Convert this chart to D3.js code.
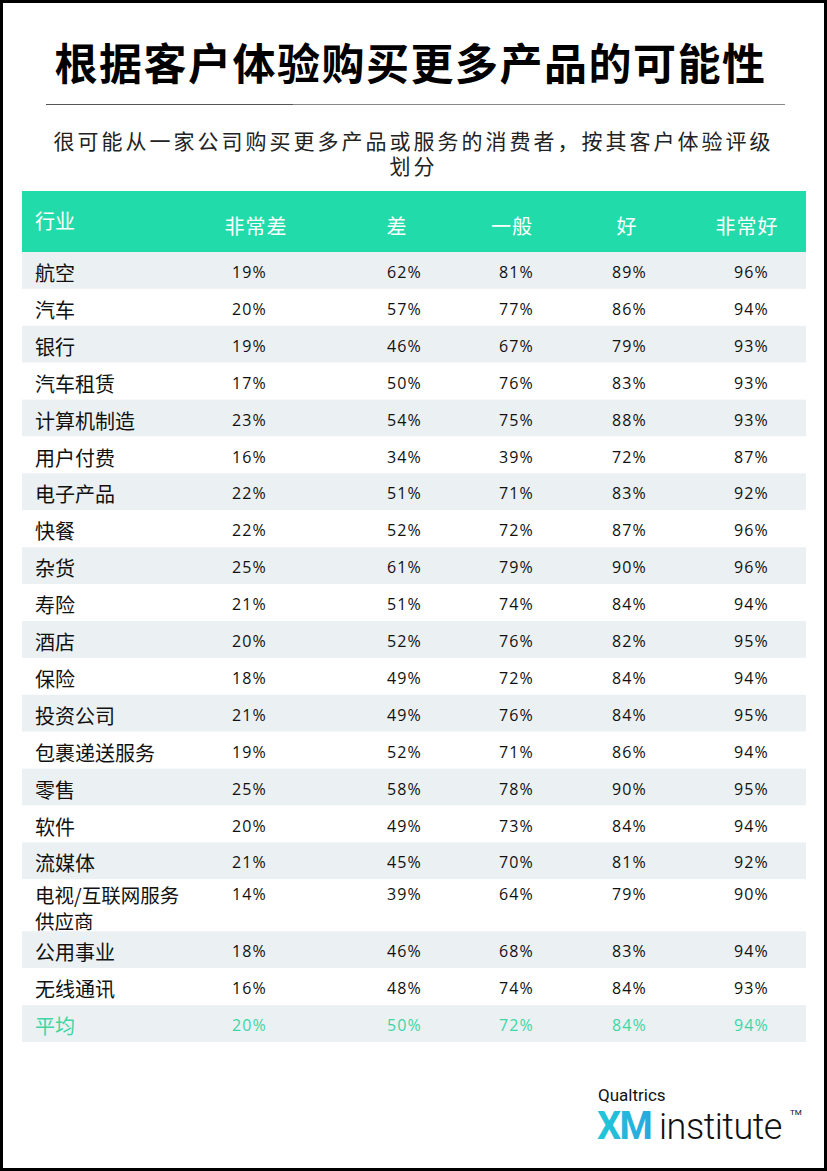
<!DOCTYPE html>
<html>
<head>
<meta charset="utf-8">
<script src="https://cdn.jsdelivr.net/npm/d3@7"></script>
<style>
  body { margin: 0; background: #fff; }
  svg text { font-family: "Noto Sans CJK SC", "Noto Sans", sans-serif; }
</style>
</head>
<body>
<div id="chart"></div>
<script>
// table data
var industries = ["航空", "汽车", "银行", "汽车租赁", "计算机制造", "用户付费", "电子产品", "快餐",
    "杂货", "寿险", "酒店", "保险", "投资公司", "包裹递送服务", "零售", "软件", "流媒体",
    "电视/互联网服务|供应商", "公用事业", "无线通讯"];
var veryPoor = [19, 20, 19, 17, 23, 16, 22, 22, 25, 21, 20, 18, 21, 19, 25, 20, 21, 14, 18, 16];
var poor     = [62, 57, 46, 50, 54, 34, 51, 52, 61, 51, 52, 49, 49, 52, 58, 49, 45, 39, 46, 48];
var okay     = [81, 77, 67, 76, 75, 39, 71, 72, 79, 74, 76, 72, 76, 71, 78, 73, 70, 64, 68, 74];
var good     = [89, 86, 79, 83, 88, 72, 83, 87, 90, 84, 82, 84, 84, 86, 90, 84, 81, 79, 83, 84];
var veryGood = [96, 94, 93, 93, 93, 87, 92, 96, 96, 94, 95, 94, 95, 94, 95, 94, 92, 90, 94, 93];
var averageLabel = "平均";
var average = [20, 50, 72, 84, 94];
var columns = ["非常差", "差", "一般", "好", "非常好"];

var title = "根据客户体验购买更多产品的可能性";
var subtitle = ["很可能从一家公司购买更多产品或服务的消费者，按其客户体验评级", "划分"];

var W = 827, H = 1171;
var teal = "#22dbaa";

var svg = d3.select("#chart").append("svg")
    .attr("width", W)
    .attr("height", H);

svg.append("rect")
    .attr("x", 1.5).attr("y", 1.5)
    .attr("width", W - 3).attr("height", H - 3)
    .attr("fill", "#fff")
    .attr("stroke", "#000")
    .attr("stroke-width", 3);

// title
svg.append("text")
    .attr("x", W / 2 - 3)
    .attr("y", 80)
    .attr("text-anchor", "middle")
    .style("font-size", "43px")
    .style("font-weight", "bold")
    .style("letter-spacing", "1.5px")
    .attr("fill", "#000")
    .text(title);

svg.append("line")
    .attr("x1", 46).attr("x2", 293).attr("y1", 104.5).attr("y2", 104.5)
    .attr("stroke", "#555").attr("stroke-width", 1);
svg.append("line")
    .attr("x1", 293).attr("x2", 785).attr("y1", 104.5).attr("y2", 104.5)
    .attr("stroke", "#888").attr("stroke-width", 1);

// subtitle wraps onto two lines inside one text element
svg.append("text")
    .attr("class", "subtitle")
    .attr("text-anchor", "middle")
    .style("font-size", "21px")
    .style("letter-spacing", "3px")
    .attr("fill", "#222")
    .selectAll("tspan")
    .data(subtitle)
    .enter().append("tspan")
    .attr("x", W / 2)
    .attr("y", function(d, i){ return 149 + i * 25; })
    .text(function(d){ return d; });

// table layout
var tableLeft = 22, tableRight = 806;
var headerTop = 191, headerH = 61;
var rowH = 36.9, tallRowH = 52;

var series = [veryPoor, poor, okay, good, veryGood];
var rows = industries.map(function(name, i){
    return {
        label: name.split("|"),
        values: series.map(function(s){ return s[i]; }),
        avg: false
    };
});
rows.push({ label: [averageLabel], values: average, avg: true });

// cumulative row positions
var yPos = headerTop + headerH;
rows.forEach(function(r){
    r.h = r.label.length > 1 ? tallRowH : rowH;
    r.y = yPos;
    yPos += r.h;
});

// value columns are right aligned, header labels centred
var valueX = d3.scaleOrdinal().domain(columns).range([267, 422, 534, 647, 769]);
var headerX = d3.scaleOrdinal().domain(columns).range([256, 397, 512, 627, 747]);

var g = svg.append("g");

g.append("rect")
    .attr("x", tableLeft).attr("y", headerTop)
    .attr("width", tableRight - tableLeft).attr("height", headerH)
    .attr("fill", teal);

g.append("text")
    .attr("x", 35).attr("y", 220)
    .attr("dominant-baseline", "central")
    .attr("fill", "#fff")
    .style("font-size", "20px")
    .text("行业");

g.selectAll(".colhead")
    .data(columns)
    .enter().append("text")
    .attr("class", "colhead")
    .attr("x", function(d){ return headerX(d); })
    .attr("y", 225)
    .attr("text-anchor", "middle")
    .attr("dominant-baseline", "central")
    .attr("fill", "#fff")
    .style("font-size", "20px")
    .style("letter-spacing", "1px")
    .text(function(d){ return d; });

var row = g.selectAll(".row")
    .data(rows)
    .enter().append("g")
    .attr("class", "row")
    .attr("transform", function(d){ return "translate(0," + d.y + ")"; });

row.append("rect")
    .attr("x", tableLeft)
    .attr("width", tableRight - tableLeft)
    .attr("height", function(d){ return d.h; })
    .attr("fill", function(d, i){ return i % 2 === 0 ? "#ebf0f3" : "#fff"; });

row.each(function(d){
    var r = d3.select(this);
    var color = d.avg ? "#3ed6a4" : "#111";
    var tall = d.label.length > 1;
    r.append("text")
        .attr("dominant-baseline", "central")
        .attr("fill", color)
        .style("font-size", tall ? "19.5px" : "20px")
        .selectAll("tspan")
        .data(d.label)
        .enter().append("tspan")
        .attr("x", 35)
        .attr("y", function(line, k){ return (tall ? 15 : 20) + k * 26; })
        .text(function(line){ return line; });
    r.selectAll(".val")
        .data(d.values)
        .enter().append("text")
        .attr("class", "val")
        .attr("x", function(v, j){ return valueX(columns[j]); })
        .attr("y", tall ? 15 : 20)
        .attr("text-anchor", "end")
        .attr("dominant-baseline", "central")
        .attr("fill", color)
        .style("font-family", "'Open Sans', sans-serif")
        .style("font-size", "16px")
        .style("letter-spacing", "1.2px")
        .text(function(v){ return v + "%"; });
});

// logo, one text element with the pieces as tspans
var grad = svg.append("defs").append("linearGradient")
    .attr("id", "xm").attr("x1", "0%").attr("x2", "100%");
grad.append("stop").attr("offset", "0%").attr("stop-color", "#21c8d8");
grad.append("stop").attr("offset", "55%").attr("stop-color", "#2f86e6");
grad.append("stop").attr("offset", "100%").attr("stop-color", "#3b4fe0");

var logo = svg.append("text")
    .style("font-family", "Roboto, sans-serif")
    .attr("fill", "#111");
logo.append("tspan")
    .attr("x", 598).attr("y", 1101)
    .style("font-size", "17px")
    .text("Qualtrics");
logo.append("tspan")
    .attr("x", 597).attr("y", 1139)
    .style("font-size", "38px")
    .style("font-weight", "bold")
    .style("letter-spacing", "-1.5px")
    .attr("fill", "url(#xm)")
    .text("XM");
logo.append("tspan")
    .attr("x", 659).attr("y", 1139)
    .style("font-size", "36px")
    .style("font-weight", "300")
    .style("letter-spacing", "-0.5px")
    .text("institute");
logo.append("tspan")
    .attr("x", 790).attr("y", 1115)
    .style("font-size", "8px")
    .text("TM");
</script>
</body>
</html>
